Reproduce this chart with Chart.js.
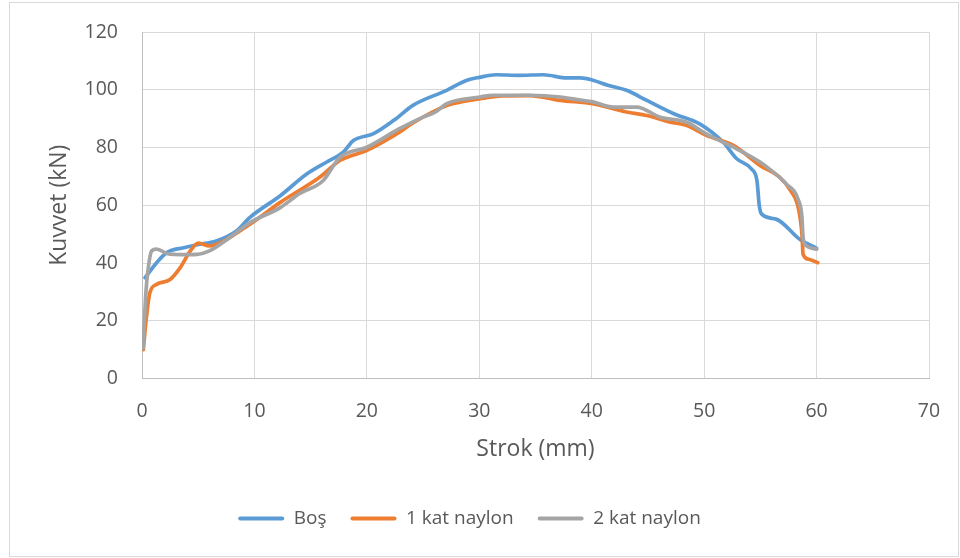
<!DOCTYPE html>
<html><head><meta charset="utf-8">
<script src="https://cdn.jsdelivr.net/npm/chart.js@4"></script>
<style>html,body{margin:0;padding:0;background:#fff}#wrap{position:relative;width:960px;height:558px}</style>
</head><body><div id="wrap"><canvas id="c" width="960" height="558"></canvas></div>
<script>
const seriesNames = ['Boş', '1 kat naylon', '2 kat naylon'];
const seriesColors = ['#5B9BD5', '#ED7D31', '#A5A5A5'];

const bosX = [0.27, 1.3, 2.2, 3.7, 4.9, 6.6, 8.4, 9.6, 12.3, 14.65, 16.4, 17.9, 18.8, 20.6, 22.4, 24.1, 27.1, 28.9, 30.0, 31.5, 33.5, 35.7, 37.8, 39.0, 40.1, 41.5, 43.1, 44.9, 47.3, 49.6, 51.7, 52.9, 54.2, 54.7, 54.9, 55.1, 56.4, 58.5, 60.0];
const bosY = [34.9, 40.1, 43.6, 45.3, 46.3, 47.6, 51.1, 55.8, 63.3, 70.8, 74.9, 78.4, 82.4, 84.8, 89.4, 94.6, 99.8, 103.3, 104.3, 105.2, 105.0, 105.2, 104.1, 104.1, 103.3, 101.5, 99.8, 96.3, 91.7, 88.2, 81.8, 76.1, 72.6, 68.5, 60.0, 57.0, 55.2, 48.2, 45.1];

const kat1X = [0.12, 0.36, 0.7, 1.3, 2.5, 3.4, 4.3, 5.0, 6.0, 7.8, 8.7, 10.0, 12.3, 15.8, 17.6, 20.0, 22.9, 24.1, 27.1, 30.1, 32.0, 34.5, 37.2, 40.1, 43.1, 44.9, 47.0, 48.4, 50.2, 52.6, 55.0, 56.7, 57.7, 58.4, 58.7, 58.8, 59.3, 60.1];
const kat1Y = [10.0, 20.0, 29.7, 32.6, 34.3, 38.4, 44.2, 46.9, 45.9, 48.8, 51.1, 54.5, 61.0, 69.7, 75.5, 79.0, 85.3, 88.5, 94.5, 96.9, 97.9, 98.0, 96.3, 95.2, 92.3, 91.1, 88.8, 87.7, 84.2, 80.7, 73.7, 69.7, 65.0, 58.7, 50.0, 43.0, 41.3, 40.1];

const kat2X = [0.1, 0.35, 0.56, 0.86, 1.3, 2.3, 3.5, 4.9, 6.0, 7.8, 9.6, 12.3, 14.0, 16.1, 17.6, 20.0, 22.9, 25.0, 26.1, 27.1, 30.1, 31.2, 34.5, 37.2, 39.0, 40.1, 41.9, 44.0, 46.1, 48.4, 50.2, 52.6, 55.0, 55.6, 57.3, 58.4, 58.7, 58.8, 59.1, 60.0];
const kat2Y = [10.5, 30.0, 38.4, 44.2, 44.8, 43.2, 42.9, 43.0, 44.2, 48.8, 54.0, 59.2, 64.0, 68.5, 76.6, 80.1, 86.5, 90.5, 92.3, 95.2, 97.5, 98.1, 98.1, 97.5, 96.4, 95.8, 94.0, 94.0, 90.5, 88.8, 84.7, 80.1, 74.9, 73.2, 67.4, 61.6, 55.8, 48.8, 45.9, 44.8];

const xTicks = [0, 10, 20, 30, 40, 50, 60, 70];
const yTicks = [0, 20, 40, 60, 80, 100, 120];

const toPts = (xs, ys) => xs.map((x, i) => ({x: x, y: ys[i]}));
const seriesData = [toPts(bosX, bosY), toPts(kat1X, kat1Y), toPts(kat2X, kat2Y)];

const TXT = '#595959';
const FONT = "'Open Sans', sans-serif";
const PAD_L = 10;

const borderPlugin = {
  id: 'outerBorder',
  beforeDraw(chart) {
    const ctx = chart.ctx;
    ctx.save();
    ctx.fillStyle = '#fff';
    ctx.fillRect(0, 0, chart.width, chart.height);
    ctx.strokeStyle = '#d9d9d9';
    ctx.lineWidth = 1;
    ctx.strokeRect(9.5, 2.5, 949, 554);
    ctx.restore();
  }
};

new Chart(document.getElementById('c'), {
  type: 'line',
  data: {
    datasets: seriesNames.map((n, i) => ({
      label: n,
      data: seriesData[i],
      borderColor: seriesColors[i],
      backgroundColor: seriesColors[i],
      borderWidth: 3.7,
      pointRadius: 0,
      pointHoverRadius: 0,
      fill: false,
      tension: 0.4,
      cubicInterpolationMode: 'monotone',
      borderCapStyle: 'round',
      borderJoinStyle: 'round',
      order: 2 - i
    }))
  },
  options: {
    responsive: false,
    animation: false,
    devicePixelRatio: 1,
    layout: {padding: {left: PAD_L, right: 31, top: 32, bottom: 20}},
    plugins: {
      tooltip: {enabled: false},
      legend: {
        position: 'bottom',
        labels: {
          boxWidth: 46,
          boxHeight: 4,
          padding: 24,
          color: TXT,
          font: {family: FONT, size: 19},
          useBorderRadius: true,
          borderRadius: 2,
          generateLabels: (chart) => seriesNames.map((n, i) => ({
            text: n,
            fillStyle: seriesColors[i],
            strokeStyle: seriesColors[i],
            lineWidth: 0,
            hidden: false,
            datasetIndex: i,
            fontColor: TXT,
            borderRadius: 2
          }))
        }
      }
    },
    scales: {
      x: {
        type: 'linear',
        min: 0, max: 70,
        afterBuildTicks: (s) => { s.ticks = xTicks.map(v => ({value: v})); },
        ticks: {color: TXT, font: {family: FONT, size: 19.5}, padding: 21, maxRotation: 0},
        grid: {color: '#d9d9d9', lineWidth: 1, drawTicks: false},
        border: {color: '#bfbfbf', width: 1},
        title: {display: true, text: 'Strok (mm)', color: TXT, font: {family: FONT, size: 23}, padding: {top: 0, bottom: 22}},
        afterFit: (s) => { s.height = 106.5; s.paddingLeft = 0; s.paddingRight = 0; }
      },
      y: {
        type: 'linear',
        min: 0, max: 120,
        afterBuildTicks: (s) => { s.ticks = yTicks.map(v => ({value: v})); },
        ticks: {color: TXT, font: {family: FONT, size: 19.5}, padding: 24},
        grid: {color: '#d9d9d9', lineWidth: 1, drawTicks: false},
        border: {color: '#bfbfbf', width: 1},
        title: {display: true, text: 'Kuvvet (kN)', color: TXT, font: {family: FONT, size: 23}, padding: {top: 36, bottom: 0}},
        afterFit: (s) => { s.width = 142 - PAD_L; s.paddingTop = 0; s.paddingBottom = 0; }
      }
    }
  },
  plugins: [borderPlugin]
});
</script>
</body></html>
